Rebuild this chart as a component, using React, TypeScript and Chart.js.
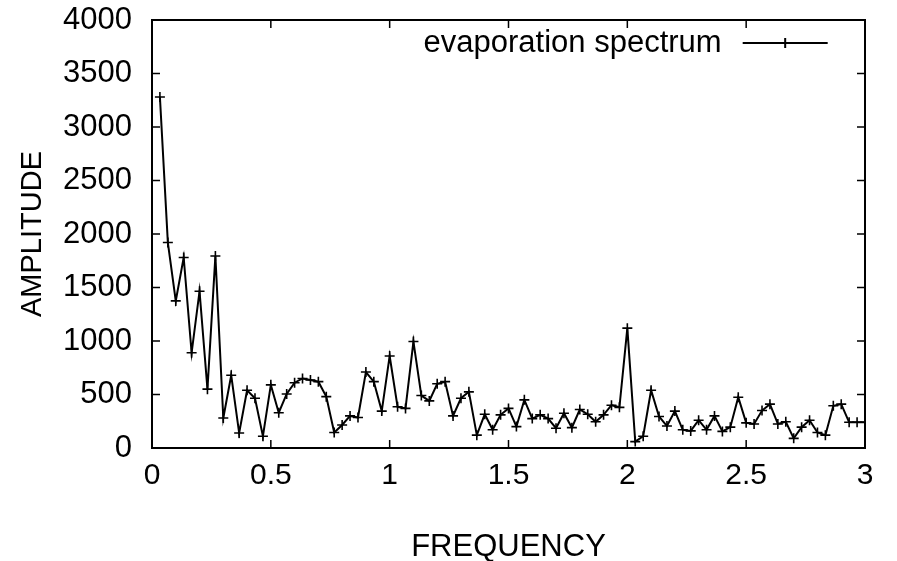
import React, { useEffect, useRef } from "react";
import { Chart, registerables } from "chart.js";

Chart.register(...registerables);

const FREQUENCY = [
  0.0333, 0.0667, 0.1, 0.1333, 0.1667, 0.2, 0.2333, 0.2667, 0.3, 0.3333,
  0.3667, 0.4, 0.4333, 0.4667, 0.5, 0.5333, 0.5667, 0.6, 0.6333, 0.6667,
  0.7, 0.7333, 0.7667, 0.8, 0.8333, 0.8667, 0.9, 0.9333, 0.9667, 1.0,
  1.0333, 1.0667, 1.1, 1.1333, 1.1667, 1.2, 1.2333, 1.2667, 1.3, 1.3333,
  1.3667, 1.4, 1.4333, 1.4667, 1.5, 1.5333, 1.5667, 1.6, 1.6333, 1.6667,
  1.7, 1.7333, 1.7667, 1.8, 1.8333, 1.8667, 1.9, 1.9333, 1.9667, 2.0,
  2.0333, 2.0667, 2.1, 2.1333, 2.1667, 2.2, 2.2333, 2.2667, 2.3, 2.3333,
  2.3667, 2.4, 2.4333, 2.4667, 2.5, 2.5333, 2.5667, 2.6, 2.6333, 2.6667,
  2.7, 2.7333, 2.7667, 2.8, 2.8333, 2.8667, 2.9, 2.9333, 2.9667, 3.0,
];

const AMPLITUDE = [
  3280, 1920, 1375, 1780, 890, 1465, 550, 1795, 280, 680,
  140, 540, 465, 110, 590, 330, 505, 610, 650, 635,
  620, 480, 145, 215, 300, 285, 710, 620, 345, 860,
  385, 370, 995, 490, 440, 600, 620, 300, 465, 525,
  120, 315, 170, 310, 370, 200, 450, 275, 310, 275,
  185, 325, 190, 360, 315, 245, 310, 400, 380, 1120,
  60, 110, 540, 295, 205, 345, 170, 160, 260, 170,
  300, 155, 195, 475, 235, 225, 350, 410, 225, 245,
  90, 195, 260, 145, 120, 395, 410, 240, 240, 240,
];

const X_TICKS = [0, 0.5, 1, 1.5, 2, 2.5, 3];
const Y_TICKS = [0, 500, 1000, 1500, 2000, 2500, 3000, 3500, 4000];
const SERIES_LABEL = "evaporation spectrum";
const X_TITLE = "FREQUENCY";
const Y_TITLE = "AMPLITUDE";

const FONT = "'Liberation Sans', Arial, Helvetica, sans-serif";

const framePlugin = {
  id: "gnuFrame",
  afterDatasetsDraw(chart: any) {
    const { ctx, chartArea } = chart;
    const { left, right, top, bottom } = chartArea;
    const xs = chart.scales.x;
    const ys = chart.scales.y;
    const tl = 8;
    ctx.save();
    ctx.strokeStyle = "#000";
    ctx.lineWidth = 1.5;
    ctx.beginPath();
    X_TICKS.forEach((v) => {
      const px = xs.getPixelForValue(v);
      ctx.moveTo(px, bottom);
      ctx.lineTo(px, bottom - tl);
      ctx.moveTo(px, top);
      ctx.lineTo(px, top + tl);
    });
    Y_TICKS.forEach((v) => {
      const py = ys.getPixelForValue(v);
      ctx.moveTo(left, py);
      ctx.lineTo(left + tl, py);
      ctx.moveTo(right, py);
      ctx.lineTo(right - tl, py);
    });
    ctx.stroke();
    ctx.lineWidth = 2;
    ctx.strokeRect(left, top, right - left, bottom - top);

    // key (legend) inside the plot, top right
    const ly = top + 23;
    const textRight = xs.getPixelForValue(2.397);
    ctx.fillStyle = "#000";
    ctx.font = `31px ${FONT}`;
    ctx.textAlign = "right";
    ctx.textBaseline = "middle";
    ctx.fillText(SERIES_LABEL, textRight, ly);
    const l0 = textRight + 21;
    const l1 = l0 + 85;
    ctx.lineWidth = 2;
    ctx.beginPath();
    ctx.moveTo(l0, ly);
    ctx.lineTo(l1, ly);
    const mid = (l0 + l1) / 2;
    ctx.moveTo(mid, ly - 5);
    ctx.lineTo(mid, ly + 5);
    ctx.stroke();
    ctx.restore();
  },
};

export default function App() {
  const ref = useRef<HTMLCanvasElement | null>(null);

  useEffect(() => {
    if (!ref.current) return;
    const data = FREQUENCY.map((f, i) => ({ x: f, y: AMPLITUDE[i] }));
    const chart = new Chart(ref.current, {
      type: "line",
      data: {
        datasets: [
          {
            label: SERIES_LABEL,
            data,
            borderColor: "#000",
            backgroundColor: "#000",
            borderWidth: 2,
            tension: 0,
            pointStyle: "cross",
            pointRadius: 5,
            pointBorderWidth: 1.6,
            pointBorderColor: "#000",
            pointHoverRadius: 5,
            fill: false,
          },
        ],
      },
      options: {
        animation: false,
        responsive: false,
        maintainAspectRatio: false,
        layout: { padding: { left: 0, right: 32, top: 20, bottom: 0 } },
        plugins: {
          legend: { display: false },
          tooltip: { enabled: false },
        },
        scales: {
          x: {
            type: "linear",
            min: 0,
            max: 3,
            afterBuildTicks: (s: any) => {
              s.ticks = X_TICKS.map((v) => ({ value: v }));
            },
            afterFit: (s: any) => {
              s.height = 113;
              s.paddingLeft = 0;
              s.paddingRight = 0;
            },
            grid: { display: false, drawTicks: false },
            border: { display: false },
            ticks: {
              padding: 10,
              color: "#000",
              font: { family: FONT, size: 30 },
              maxRotation: 0,
              autoSkip: false,
              callback: (v: any) => String(v),
            },
            title: {
              display: true,
              text: X_TITLE,
              color: "#000",
              font: { family: FONT, size: 31, lineHeight: 1 },
              padding: { top: 0, bottom: -1.5 },
            },
          },
          y: {
            type: "linear",
            min: 0,
            max: 4000,
            afterBuildTicks: (s: any) => {
              s.ticks = Y_TICKS.map((v) => ({ value: v }));
            },
            afterFit: (s: any) => {
              s.width = 152;
              s.paddingTop = 0;
              s.paddingBottom = 0;
            },
            grid: { display: false, drawTicks: false },
            border: { display: false },
            ticks: {
              padding: 20,
              color: "#000",
              font: { family: FONT, size: 31 },
              autoSkip: false,
              callback: (v: any) => String(v),
            },
            title: {
              display: true,
              text: Y_TITLE,
              color: "#000",
              font: { family: FONT, size: 29, lineHeight: 1 },
              padding: { top: 18.5, bottom: 0 },
            },
          },
        },
      },
      plugins: [framePlugin],
    });
    return () => chart.destroy();
  }, []);

  return (
    <div style={{ position: "absolute", left: 0, top: 0, width: 897, height: 561 }}>
      <canvas ref={ref} width={897} height={561} style={{ display: "block" }} />
    </div>
  );
}
